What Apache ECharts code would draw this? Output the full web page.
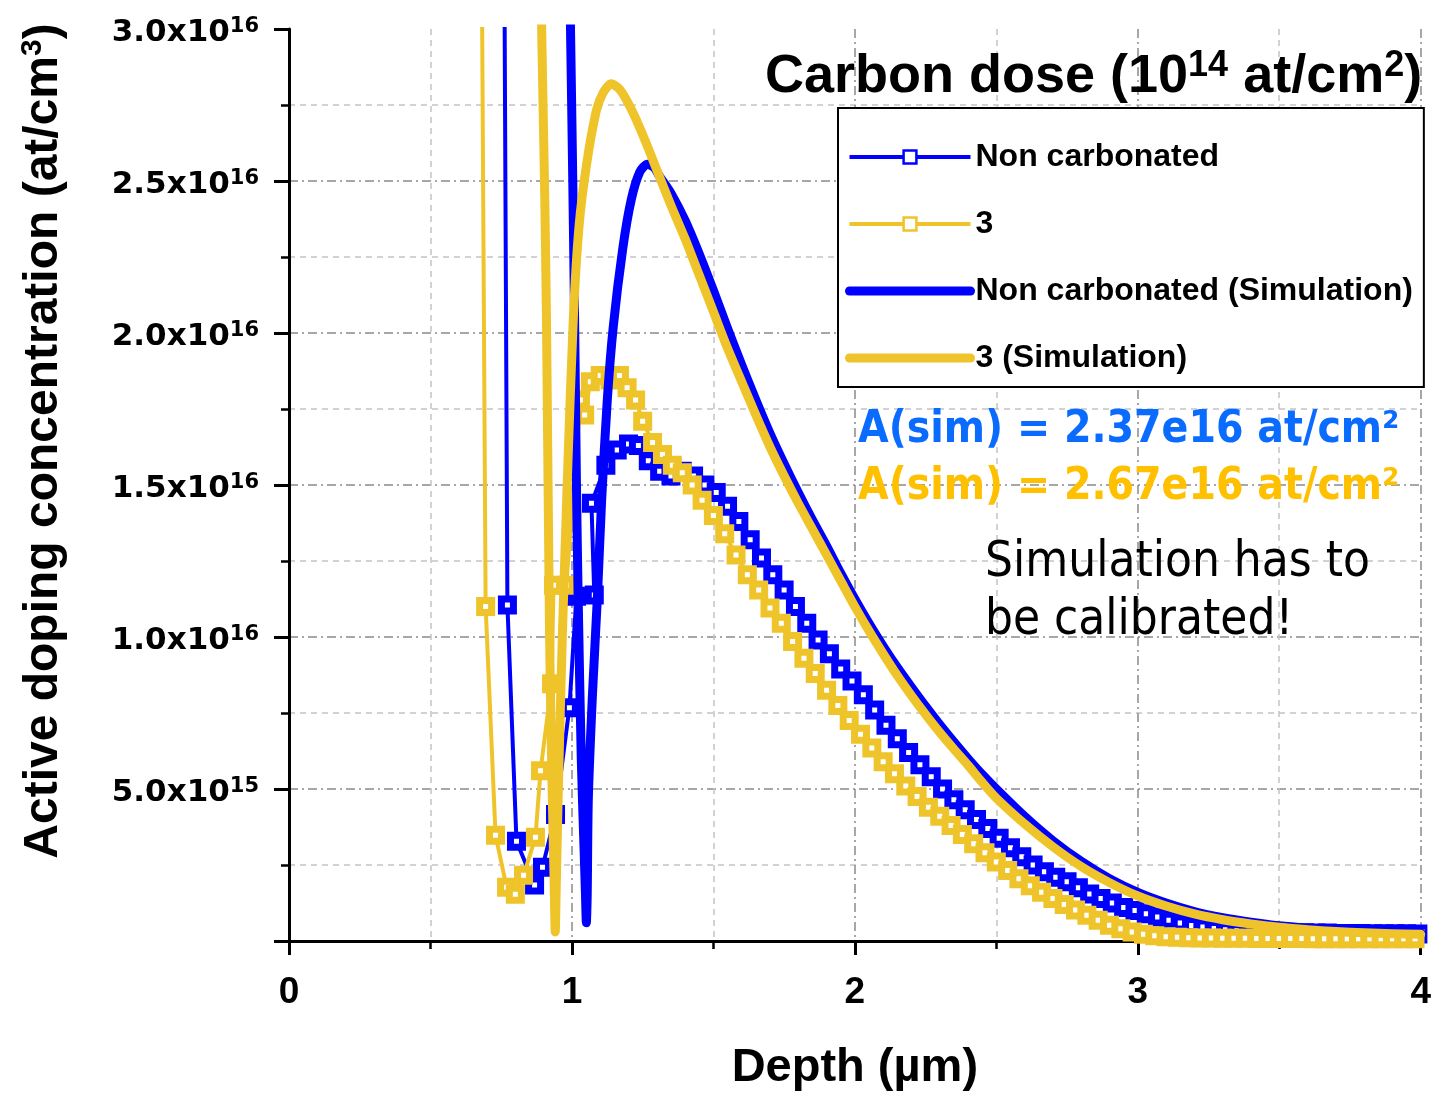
<!DOCTYPE html>
<html><head><meta charset="utf-8">
<script src="https://cdn.jsdelivr.net/npm/echarts@6/dist/echarts.min.js"></script>
<style>html,body{margin:0;padding:0;background:#fff}#c{width:1434px;height:1097px}</style>
</head><body><div id="c"></div>
<script>
// Concentrations in units of 1e16 at/cm3, depth in µm
const blueMeasDepth = [0.752,0.772,0.804,0.868,0.896,0.942,0.991,1.016,1.079,1.069,1.12,1.16,1.20,1.235,1.27,1.31,1.35,1.39,1.43,
  1.47,1.51,1.55,1.59,1.63,1.67,1.71,1.75,1.79,1.83,1.87,1.91,1.95,1.99,2.03,2.07,2.11,2.15,2.19,2.23,2.27,2.31,2.35,2.39,2.43,2.47,
  2.51,2.55,2.59,2.63,2.67,2.71,2.75,2.79,2.83,2.87,2.91,2.95,2.99,3.03,3.07,3.11,3.15,3.19,3.23,3.27,3.31,3.35,3.39,3.43,3.47,
  3.51,3.55,3.59,3.63,3.67,3.71,3.75,3.79,3.83,3.87,3.91,3.95,3.99];
const blueMeasConc = [5.0,1.105,0.328,0.184,0.243,0.416,0.767,1.134,1.138,1.44,1.565,1.615,1.635,1.63,1.58,1.545,1.53,1.545,1.53,
  1.50,1.475,1.43,1.38,1.32,1.26,1.205,1.155,1.10,1.045,0.99,0.945,0.895,0.855,0.81,0.76,0.71,0.665,0.62,0.58,0.54,0.50,0.465,0.432,0.40,0.37,
  0.338,0.307,0.277,0.25,0.228,0.21,0.195,0.175,0.155,0.14,0.125,0.11,0.10,0.09,0.079,0.068,0.059,0.051,0.046,0.041,0.037,0.034,0.032,0.030,0.029,
  0.028,0.027,0.027,0.026,0.026,0.025,0.025,0.025,0.024,0.024,0.024,0.024,0.023];

const yellowMeasDepth = [0.67,0.695,0.730,0.769,0.800,0.829,0.871,0.889,0.928,0.935,0.98,1.03,1.045,1.065,1.10,1.135,1.168,1.195,1.225,1.25,
  1.285,1.32,1.355,1.39,1.425,1.46,
  1.50,1.54,1.58,1.62,1.66,1.70,1.74,1.78,1.82,1.86,1.90,1.94,1.98,2.02,2.06,2.10,2.14,2.18,2.22,2.26,2.30,2.34,2.38,2.42,2.46,
  2.50,2.54,2.58,2.62,2.66,2.70,2.74,2.78,2.82,2.86,2.90,2.94,2.98,3.02,3.06,3.10,3.14,3.18,3.22,3.26,3.30,3.34,3.38,3.42,3.46,
  3.50,3.54,3.58,3.62,3.66,3.70,3.74,3.78,3.82,3.86,3.90,3.94,3.98];
const yellowMeasConc = [5.0,1.10,0.348,0.177,0.154,0.216,0.341,0.56,0.846,1.17,1.17,1.78,1.73,1.84,1.86,1.845,1.86,1.82,1.78,1.71,
  1.64,1.60,1.565,1.54,1.50,1.45,
  1.40,1.34,1.27,1.205,1.155,1.095,1.045,0.985,0.93,0.88,0.825,0.775,0.725,0.68,0.635,0.59,0.55,0.51,0.475,0.44,0.41,0.38,0.35,0.32,0.29,
  0.26,0.232,0.205,0.182,0.16,0.14,0.12,0.102,0.085,0.068,0.052,0.04,0.03,0.022,0.017,0.014,0.012,0.011,0.010,0.010,0.009,0.009,0.009,0.008,0.008,
  0.008,0.008,0.008,0.007,0.007,0.007,0.007,0.007,0.007,0.007,0.007,0.007,0.007];

const blueSimDepth = [0.985,0.995,1.003,1.010,1.016,1.022,1.033,1.043,1.048,1.051,1.054,1.058,1.072,1.090,1.105,1.125,1.146,1.18,1.21,1.24,
  1.267,1.29,1.31,1.35,1.40,1.45,1.50,1.55,1.60,1.65,1.70,1.75,1.80,1.85,1.90,1.95,2.00,2.05,2.10,2.15,
  2.20,2.25,2.30,2.35,2.40,2.45,2.50,2.60,2.70,2.80,2.90,3.00,3.10,3.20,3.30,3.40,3.50,3.60,3.70,3.80,3.90,4.00];
const blueSimConc = [3.6,3.0,2.5,2.0,1.5,1.13,0.60,0.30,0.15,0.06,0.15,0.47,0.80,1.13,1.45,1.78,2.02,2.28,2.44,2.53,
  2.555,2.545,2.515,2.46,2.37,2.26,2.14,2.015,1.895,1.78,1.67,1.57,1.475,1.385,1.30,1.21,1.125,1.045,0.97,0.90,
  0.835,0.772,0.712,0.655,0.60,0.548,0.50,0.41,0.33,0.262,0.205,0.16,0.125,0.097,0.077,0.062,0.05,0.042,0.036,0.032,0.029,0.027];

const yellowSimDepth = [0.878,0.893,0.903,0.910,0.921,0.930,0.937,0.941,0.945,0.952,0.966,0.985,1.005,1.025,1.051,1.086,1.11,1.139,1.17,1.213,
  1.26,1.309,1.35,1.40,1.45,1.50,1.55,1.60,1.65,1.70,1.75,1.80,1.85,1.90,1.95,2.00,2.05,2.10,2.15,2.20,
  2.25,2.30,2.35,2.40,2.45,2.50,2.60,2.70,2.80,2.90,3.00,3.10,3.20,3.30,3.40,3.50,3.60,3.70,3.80,3.90,4.00];
const yellowSimConc = [4.0,3.0,2.5,2.05,1.0,0.5,0.2,0.03,0.2,0.5,1.0,1.55,2.05,2.35,2.55,2.73,2.79,2.82,2.80,2.73,
  2.63,2.515,2.42,2.31,2.19,2.07,1.95,1.84,1.73,1.625,1.53,1.44,1.355,1.27,1.185,1.10,1.02,0.945,0.873,0.807,
  0.745,0.686,0.631,0.578,0.522,0.47,0.385,0.31,0.245,0.192,0.148,0.115,0.089,0.07,0.056,0.045,0.037,0.031,0.027,0.024,0.022];

const seriesNames = ['Non carbonated','3','Non carbonated (Simulation)','3 (Simulation)'];
const annotations = ['A(sim) = 2.37e16 at/cm²','A(sim) = 2.67e16 at/cm²','Simulation has to','be calibrated!'];

const BLUE = '#0000FF', YEL = '#EFC42B';
const ARIAL = "'Liberation Sans', Arial, sans-serif";
const DV = "'DejaVu Sans', sans-serif";
const DVC = "'DejaVu Sans Condensed', 'DejaVu Sans', sans-serif";

function pairs(xs, ys) { return xs.map((x, i) => [x, ys[i]]); }

const majorSplit = {show: true, lineStyle: {color: '#8a8a8a', width: 1.5, type: [9, 4, 2, 4]}};
const minorSplit = {show: true, lineStyle: {color: '#c4c4c4', width: 1.5, type: [6, 5]}};

const option = {
  animation: false,
  backgroundColor: '#fff',
  title: {
    text: 'Carbon dose (10{s|14} at/cm{s|2})',
    left: 765, top: 48, padding: 0,
    textStyle: {fontFamily: ARIAL, fontSize: 54, fontWeight: 'bold', color: '#000', lineHeight: 58,
      rich: {s: {fontFamily: ARIAL, fontSize: 36, fontWeight: 'bold', color: '#000', lineHeight: 28, verticalAlign: 'top'}}}
  },
  legend: {
    orient: 'vertical', left: 838, top: 108,
    padding: [31, 11, 11, 7], itemGap: 31, itemWidth: 121, itemHeight: 16,
    borderColor: '#000', borderWidth: 2, backgroundColor: '#fff',
    selectedMode: false,
    textStyle: {fontFamily: ARIAL, fontSize: 32, fontWeight: 'bold', color: '#000', lineHeight: 36},
    data: [
      {name: seriesNames[0], itemStyle: {color: '#fff', borderColor: BLUE, borderWidth: 2.5}, lineStyle: {color: BLUE, width: 4}},
      {name: seriesNames[1], itemStyle: {color: '#fff', borderColor: YEL, borderWidth: 2.5}, lineStyle: {color: YEL, width: 4}},
      {name: seriesNames[2], itemStyle: {opacity: 0}, lineStyle: {color: BLUE, width: 9, cap: 'round'}},
      {name: seriesNames[3], itemStyle: {opacity: 0}, lineStyle: {color: YEL, width: 9, cap: 'round'}}
    ]
  },
  grid: {left: 289, right: 11, top: 29, bottom: 153, containLabel: false},
  xAxis: {
    type: 'value', min: 0, max: 4, interval: 1,
    name: 'Depth (µm)', nameLocation: 'middle', nameGap: 104,
    nameTextStyle: {fontFamily: ARIAL, fontSize: 47, fontWeight: 'bold', color: '#000'},
    axisLine: {show: true, onZero: false, lineStyle: {color: '#000', width: 3}},
    axisTick: {show: true, inside: false, length: 14, lineStyle: {color: '#000', width: 3}},
    minorTick: {show: true, splitNumber: 2, length: 8, lineStyle: {color: '#000', width: 2.5}},
    axisLabel: {fontFamily: ARIAL, fontSize: 37, fontWeight: 'bold', color: '#000', margin: 33},
    splitLine: majorSplit,
    minorSplitLine: minorSplit
  },
  yAxis: {
    type: 'value', min: 0, max: 3, interval: 0.5,
    name: 'Active doping concentration (at/cm{s|3})', nameLocation: 'middle', nameGap: 219, nameRotate: 90,
    nameTextStyle: {fontFamily: ARIAL, fontSize: 48, fontWeight: 'bold', color: '#000', lineHeight: 52, padding: [0, 0, 0, 88],
      rich: {s: {fontFamily: ARIAL, fontSize: 30, fontWeight: 'bold', color: '#000', lineHeight: 26, verticalAlign: 'top'}}},
    axisLine: {show: true, onZero: false, lineStyle: {color: '#000', width: 3}},
    axisTick: {show: true, inside: false, length: 15, lineStyle: {color: '#000', width: 3}},
    minorTick: {show: true, splitNumber: 2, length: 8, lineStyle: {color: '#000', width: 2.5}},
    axisLabel: {
      fontFamily: DV, fontSize: 31, fontWeight: 'bold', color: '#000', margin: 30, lineHeight: 34, padding: [8, 0, 0, 0],
      formatter: function (v) {
        if (Math.abs(v) < 1e-9) return '';
        const e = v >= 1 ? 16 : 15;
        const m = v >= 1 ? v : v * 10;
        return m.toFixed(1) + 'x10{s|' + e + '}';
      },
      rich: {s: {fontFamily: DV, fontSize: 21, fontWeight: 'bold', color: '#000', lineHeight: 14, verticalAlign: 'top'}}
    },
    splitLine: Object.assign({}, majorSplit, {showMaxLine: false}),
    minorSplitLine: minorSplit
  },
  graphic: [
    {type: 'text', left: 858, top: 409, z: 100, style: {text: annotations[0], fill: '#0A6CFF', fontSize: 44, fontWeight: 'bold', fontFamily: DVC}},
    {type: 'text', left: 858, top: 466, z: 100, style: {text: annotations[1], fill: '#FFC000', fontSize: 44, fontWeight: 'bold', fontFamily: DVC}},
    {type: 'text', left: 985, top: 539, z: 100, style: {text: annotations[2], fill: '#000', fontSize: 49, fontFamily: DVC}},
    {type: 'text', left: 985, top: 597, z: 100, style: {text: annotations[3], fill: '#000', fontSize: 49, fontFamily: DVC}}
  ],
  series: [
    {
      name: seriesNames[0], type: 'line', data: pairs(blueMeasDepth, blueMeasConc),
      symbol: 'rect', symbolSize: 12, showSymbol: true, showAllSymbol: true,
      lineStyle: {color: BLUE, width: 4}, itemStyle: {color: '#fff', borderColor: BLUE, borderWidth: 7},
      clip: true, emphasis: {disabled: true}, z: 2
    },
    {
      name: seriesNames[1], type: 'line', data: pairs(yellowMeasDepth, yellowMeasConc),
      symbol: 'rect', symbolSize: 12, showSymbol: true, showAllSymbol: true,
      lineStyle: {color: YEL, width: 4}, itemStyle: {color: '#fff', borderColor: YEL, borderWidth: 7},
      clip: true, emphasis: {disabled: true}, z: 3
    },
    {
      name: seriesNames[2], type: 'line', data: pairs(blueSimDepth, blueSimConc),
      symbol: 'none', smooth: 0.25, lineStyle: {color: BLUE, width: 9, cap: 'round', join: 'round'},
      itemStyle: {color: BLUE}, clip: true, emphasis: {disabled: true}, z: 4
    },
    {
      name: seriesNames[3], type: 'line', data: pairs(yellowSimDepth, yellowSimConc),
      symbol: 'none', smooth: 0.25, lineStyle: {color: YEL, width: 9, cap: 'round', join: 'round'},
      itemStyle: {color: YEL}, clip: true, emphasis: {disabled: true}, z: 5
    }
  ]
};

const chart = echarts.init(document.getElementById('c'), null, {renderer: 'canvas'});
chart.setOption(option);
</script>
</body></html>
